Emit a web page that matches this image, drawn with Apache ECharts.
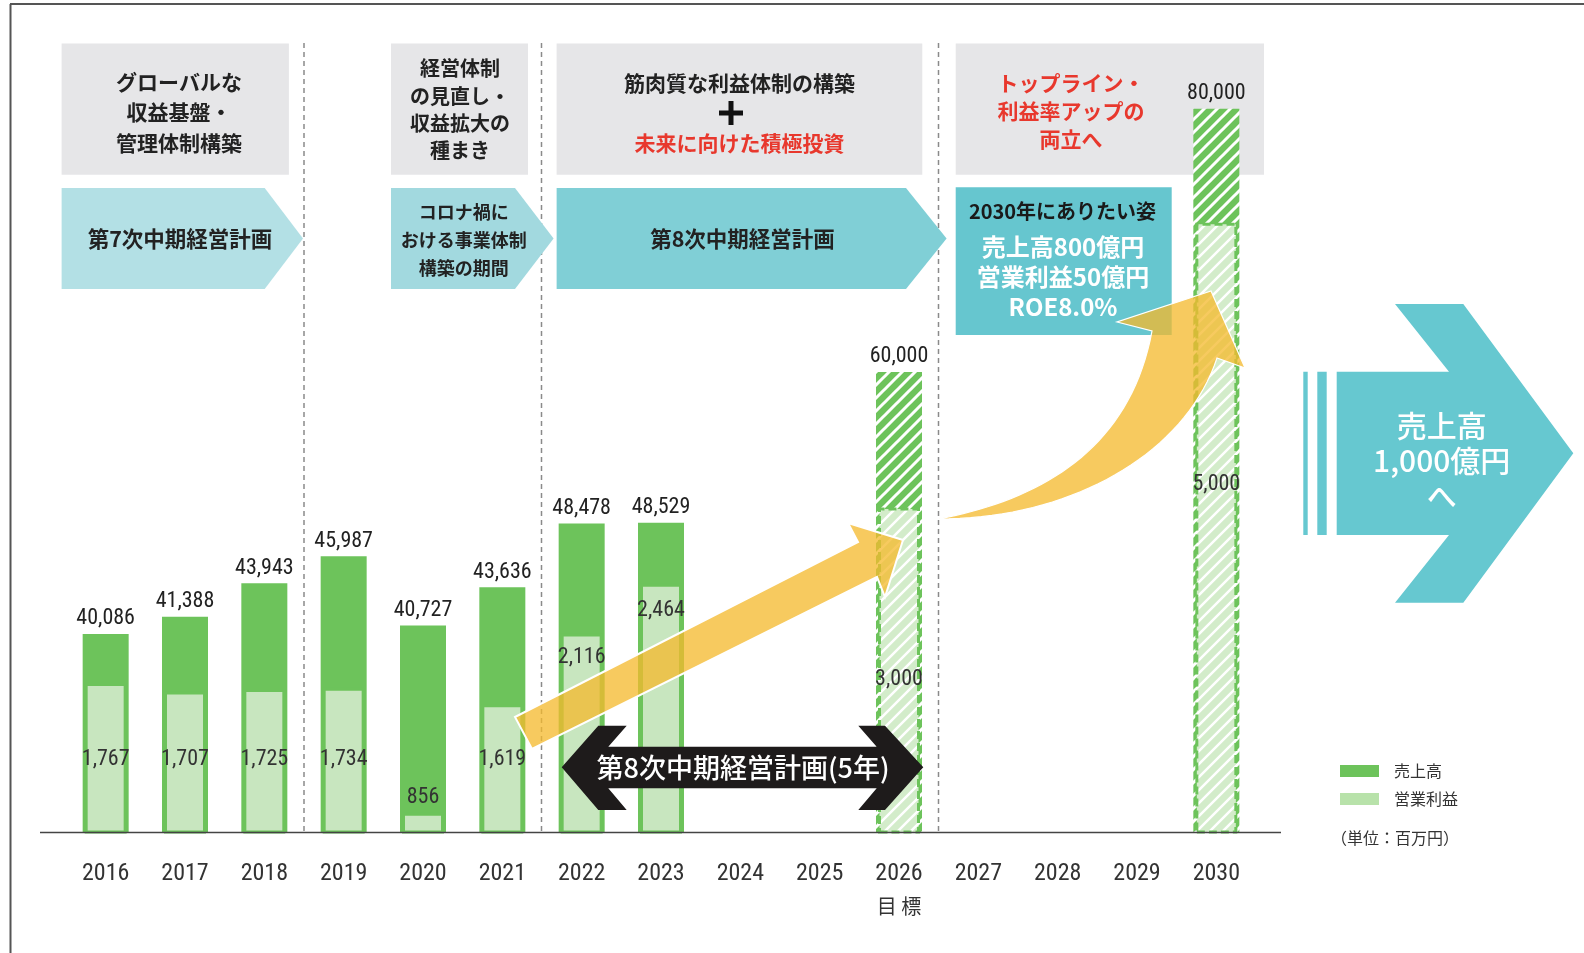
<!DOCTYPE html>
<html><head><meta charset="utf-8">
<script src="https://cdn.jsdelivr.net/npm/echarts@6/dist/echarts.min.js"></script>
<style>html,body{margin:0;padding:0;background:#fff}#c{width:1584px;height:953px}</style>
</head><body><div id="c"></div>
<script>
// ---- data ----
const years = ['2016','2017','2018','2019','2020','2021','2022','2023','2024','2025','2026','2027','2028','2029','2030'];
const sales = [40086, 41388, 43943, 45987, 40727, 43636, 48478, 48529, null, null, 60000, null, null, null, 80000];
const profit = [1767, 1707, 1725, 1734, 856, 1619, 2116, 2464, null, null, 3000, null, null, null, 5000];
const targetYears = ['2026', '2030'];
const targetNote = { '2026': '目 標' };
const seriesNames = ['売上高', '営業利益'];
const unitNote = '（単位：百万円）';

// ---- styles ----
const GREEN = '#6dc35b', LIGHT = '#c8e6bf', LIGHT_H = '#d3ecca';
const NARROW = '"Liberation Sans Narrow","Roboto Condensed","DejaVu Sans Condensed","Liberation Sans",Arial,sans-serif';
const JP = '"Noto Sans CJK JP","Noto Sans",sans-serif';
const YEL = 'rgba(245,185,45,0.76)';

function hatch(bg, stripe, lw, s) {
  const c = document.createElement('canvas'); c.width = s; c.height = s;
  const g = c.getContext('2d');
  g.fillStyle = bg; g.fillRect(0, 0, s, s);
  g.strokeStyle = stripe; g.lineWidth = lw; g.beginPath();
  g.moveTo(-s/2, s/2); g.lineTo(s/2, -s/2);
  g.moveTo(0, s); g.lineTo(s, 0);
  g.moveTo(s/2, s*1.5); g.lineTo(s*1.5, s/2);
  g.stroke();
  return c;
}
const hatchDark = hatch(GREEN, '#ffffff', 3, 13);
const hatchLight = hatch(LIGHT_H, '#ffffff', 2.5, 13);

const profitLabelPos = {
  '2020': { position: 'top', distance: 4 },
  '2022': { position: 'insideTop', distance: 13 },
  '2023': { position: 'insideTop', distance: 16 },
  '2026': { position: 'insideTop', distance: 161 },
  '2030': { position: 'insideTop', distance: 251 }
};
const defaultProfitPos = { position: 'insideBottom', distance: 63 };

const salesData = sales.map((v, i) => {
  if (v == null) return '-';
  if (targetYears.includes(years[i])) return { value: v, itemStyle: { color: { image: hatchDark, repeat: 'repeat' } } };
  return v;
});
const profitData = profit.map((v, i) => {
  if (v == null) return '-';
  const y = years[i];
  const item = { value: v, label: Object.assign({}, profitLabelPos[y] || defaultProfitPos) };
  if (targetYears.includes(y)) item.itemStyle = { color: { image: hatchLight, repeat: 'repeat' }, borderType: [8, 4], borderColor: GREEN, borderWidth: 3 };
  return item;
});

function txt(text, x, y, size, color, weight, lh, z) {
  return { type: 'text', z: z || 20, style: { text, x, y, fill: color, fontFamily: JP, fontSize: size, fontWeight: weight, align: 'center', verticalAlign: 'middle', lineHeight: lh || Math.round(size * 1.3) } };
}
function cubic(p0, p1, p2, p3, n) {
  const pts = [];
  for (let i = 0; i <= n; i++) {
    const t = i / n, u = 1 - t;
    pts.push([u*u*u*p0[0] + 3*u*u*t*p1[0] + 3*u*t*t*p2[0] + t*t*t*p3[0],
              u*u*u*p0[1] + 3*u*u*t*p1[1] + 3*u*t*t*p2[1] + t*t*t*p3[1]]);
  }
  return pts;
}
const curvePts = [].concat(
  cubic([938, 519], [1040, 500], [1130, 450], [1152, 331], 36),
  [[1117, 322], [1211, 291], [1245, 368]],
  cubic([1217, 358], [1185, 455], [1070, 519], [938, 519], 36)
);

const graphics = [
  // frame
  { type: 'line', z: 1, shape: { x1: 10, y1: 4, x2: 1584, y2: 4 }, style: { stroke: '#555', lineWidth: 2 } },
  { type: 'line', z: 1, shape: { x1: 10.5, y1: 4, x2: 10.5, y2: 953 }, style: { stroke: '#555', lineWidth: 2 } },
  // baseline
  { type: 'line', z: 5, shape: { x1: 40, y1: 832.5, x2: 1281, y2: 832.5 }, style: { stroke: '#444', lineWidth: 1.5 } },
  // dashed separators
  { type: 'line', z: 1, shape: { x1: 304, y1: 43, x2: 304, y2: 832 }, style: { stroke: '#8a8a8a', lineWidth: 1.5, lineDash: [5, 4] } },
  { type: 'line', z: 1, shape: { x1: 541.5, y1: 43, x2: 541.5, y2: 832 }, style: { stroke: '#8a8a8a', lineWidth: 1.5, lineDash: [5, 4] } },
  { type: 'line', z: 1, shape: { x1: 938.5, y1: 43, x2: 938.5, y2: 832 }, style: { stroke: '#8a8a8a', lineWidth: 1.5, lineDash: [5, 4] } },
  // gray boxes
  { type: 'rect', z: 2, shape: { x: 61.6, y: 43.4, width: 227.3, height: 131.4 }, style: { fill: '#e6e6e8' } },
  { type: 'rect', z: 2, shape: { x: 391, y: 43.4, width: 137, height: 131.4 }, style: { fill: '#e6e6e8' } },
  { type: 'rect', z: 2, shape: { x: 556.6, y: 43.4, width: 365.7, height: 131.4 }, style: { fill: '#e6e6e8' } },
  { type: 'rect', z: 2, shape: { x: 955.7, y: 43.4, width: 308.3, height: 131.4 }, style: { fill: '#e6e6e8' } },
  txt('グローバルな\n収益基盤・\n管理体制構築', 179, 112.5, 21, '#222', 'bold', 30.3),
  txt('経営体制\nの見直し・\n収益拡大の\n種まき', 460, 109.6, 20, '#222', 'bold', 27.3),
  txt('筋肉質な利益体制の構築', 739.5, 83, 21, '#222', 'bold', 26),
  { type: 'rect', z: 20, shape: { x: 719, y: 110.5, width: 24, height: 5 }, style: { fill: '#111' } },
  { type: 'rect', z: 20, shape: { x: 728.5, y: 101, width: 5, height: 24 }, style: { fill: '#111' } },
  txt('未来に向けた積極投資', 739.5, 143.4, 21, '#e8382d', 'bold', 26),
  txt('トップライン・\n利益率アップの\n両立へ', 1071, 111, 21, '#e8382d', 'bold', 27.8),
  // plan arrows
  { type: 'polygon', z: 2, shape: { points: [[61.6, 188], [264.7, 188], [303, 238.5], [264.7, 289], [61.6, 289]] }, style: { fill: '#b3e0e5' } },
  { type: 'polygon', z: 2, shape: { points: [[391, 188], [515, 188], [553.6, 238.5], [515, 289], [391, 289]] }, style: { fill: '#a2d9df' } },
  { type: 'polygon', z: 2, shape: { points: [[556.6, 188], [906, 188], [946.6, 238.5], [906, 289], [556.6, 289]] }, style: { fill: '#80cfd6' } },
  { type: 'rect', z: 2, shape: { x: 955.7, y: 187.3, width: 216, height: 147.7 }, style: { fill: '#66c6cf' } },
  txt('第7次中期経営計画', 180, 238.5, 21.5, '#222', 'bold', 26),
  txt('コロナ禍に\nおける事業体制\n構築の期間', 463.7, 240, 18, '#222', 'bold', 27.8),
  txt('第8次中期経営計画', 742.5, 238.5, 21.5, '#222', 'bold', 26),
  txt('2030年にありたい姿', 1062.5, 211.7, 20, '#1a1a1a', 'bold', 26),
  txt('売上高800億円\n営業利益50億円\nROE8.0%', 1063, 276.7, 24, '#ffffff', 'bold', 30),
  // big right arrow
  { type: 'rect', z: 2, shape: { x: 1303.3, y: 371.7, width: 4.4, height: 163.3 }, style: { fill: '#66c8d0' } },
  { type: 'rect', z: 2, shape: { x: 1317.3, y: 371.7, width: 9.4, height: 163.3 }, style: { fill: '#66c8d0' } },
  { type: 'polygon', z: 2, shape: { points: [[1336.7, 371.7], [1449, 371.7], [1395, 304], [1463.3, 304], [1573.3, 453.3], [1463.3, 602.7], [1395, 602.7], [1449, 535], [1336.7, 535]] }, style: { fill: '#66c8d0' } },
  txt('売上高\n1,000億円\nへ', 1441.7, 460.5, 30, '#ffffff', 500, 35),
  // yellow arrows
  { type: 'polygon', z: 100, shape: { points: [[515, 717], [858, 542], [848, 523], [903, 540], [885, 597], [877, 577], [532, 749]] }, style: { fill: YEL, stroke: '#ffffff', lineWidth: 2 } },
  { type: 'polygon', z: 100, shape: { points: curvePts }, style: { fill: YEL, stroke: '#ffffff', lineWidth: 1.2 } },
  // black double arrow
  { type: 'polygon', z: 110, shape: { points: [[561.7, 767.3], [598.3, 725.7], [626.7, 725.7], [608.3, 746.7], [876.7, 746.7], [858.3, 725.7], [885, 725.7], [923.3, 767.3], [885, 810], [858.3, 810], [876.7, 788.3], [608.3, 788.3], [626.7, 810], [598.3, 810]] }, style: { fill: '#1e1b1b' } },
  txt('第8次中期経営計画(5年)', 743, 767.3, 27, '#ffffff', 500, 30, 111),
  // unit note
  { type: 'text', z: 20, style: { text: unitNote, x: 1331, y: 837.5, fill: '#333', fontFamily: JP, fontSize: 16, align: 'left', verticalAlign: 'middle' } }
];

const chart = echarts.init(document.getElementById('c'));
chart.setOption({
  animation: false,
  backgroundColor: '#ffffff',
  grid: { left: 66, right: 328, top: 40, bottom: 121 },
  legend: {
    orient: 'vertical', left: 1340, top: 763, padding: 0, itemWidth: 39, itemHeight: 12, itemGap: 12,
    icon: 'rect',
    textStyle: { fontFamily: JP, fontSize: 16, color: '#333', padding: [0, 0, 0, 10] },
    data: [
      { name: seriesNames[0], itemStyle: { color: GREEN, borderWidth: 0 } },
      { name: seriesNames[1], itemStyle: { color: '#b8e2aa', borderWidth: 0 } }
    ]
  },
  xAxis: [
    {
      type: 'category', data: years,
      axisLine: { show: false }, axisTick: { show: false },
      axisLabel: {
        margin: 29, fontFamily: NARROW, fontSize: 24, color: '#333', lineHeight: 26, interval: 0,
        formatter: v => targetNote[v] ? '{y|' + v + '}\n{t|' + targetNote[v] + '}' : v,
        rich: {
          y: { fontFamily: NARROW, fontSize: 24, color: '#333', lineHeight: 26 },
          t: { fontFamily: JP, fontSize: 20, color: '#333', lineHeight: 38 }
        }
      }
    },
    { type: 'category', data: years, show: false }
  ],
  yAxis: [
    { type: 'value', min: 25040, max: 85220, show: false, splitLine: { show: false } },
    { type: 'value', min: 721, max: 6284, show: false, splitLine: { show: false } }
  ],
  series: [
    {
      name: seriesNames[0], type: 'bar', xAxisIndex: 0, yAxisIndex: 0, barWidth: 46, z: 2,
      itemStyle: { color: GREEN },
      label: { show: true, position: 'top', distance: 4, fontFamily: NARROW, fontSize: 22, color: '#222',
        formatter: p => p.value.toLocaleString('en-US') },
      data: salesData
    },
    {
      name: seriesNames[1], type: 'bar', xAxisIndex: 1, yAxisIndex: 1, barWidth: 42, z: 3,
      itemStyle: { color: LIGHT, borderColor: GREEN, borderWidth: 3 },
      label: { show: true, fontFamily: NARROW, fontSize: 22, color: '#333',
        formatter: p => p.value.toLocaleString('en-US') },
      data: profitData
    }
  ],
  graphic: { elements: graphics }
});
</script>
</body></html>
